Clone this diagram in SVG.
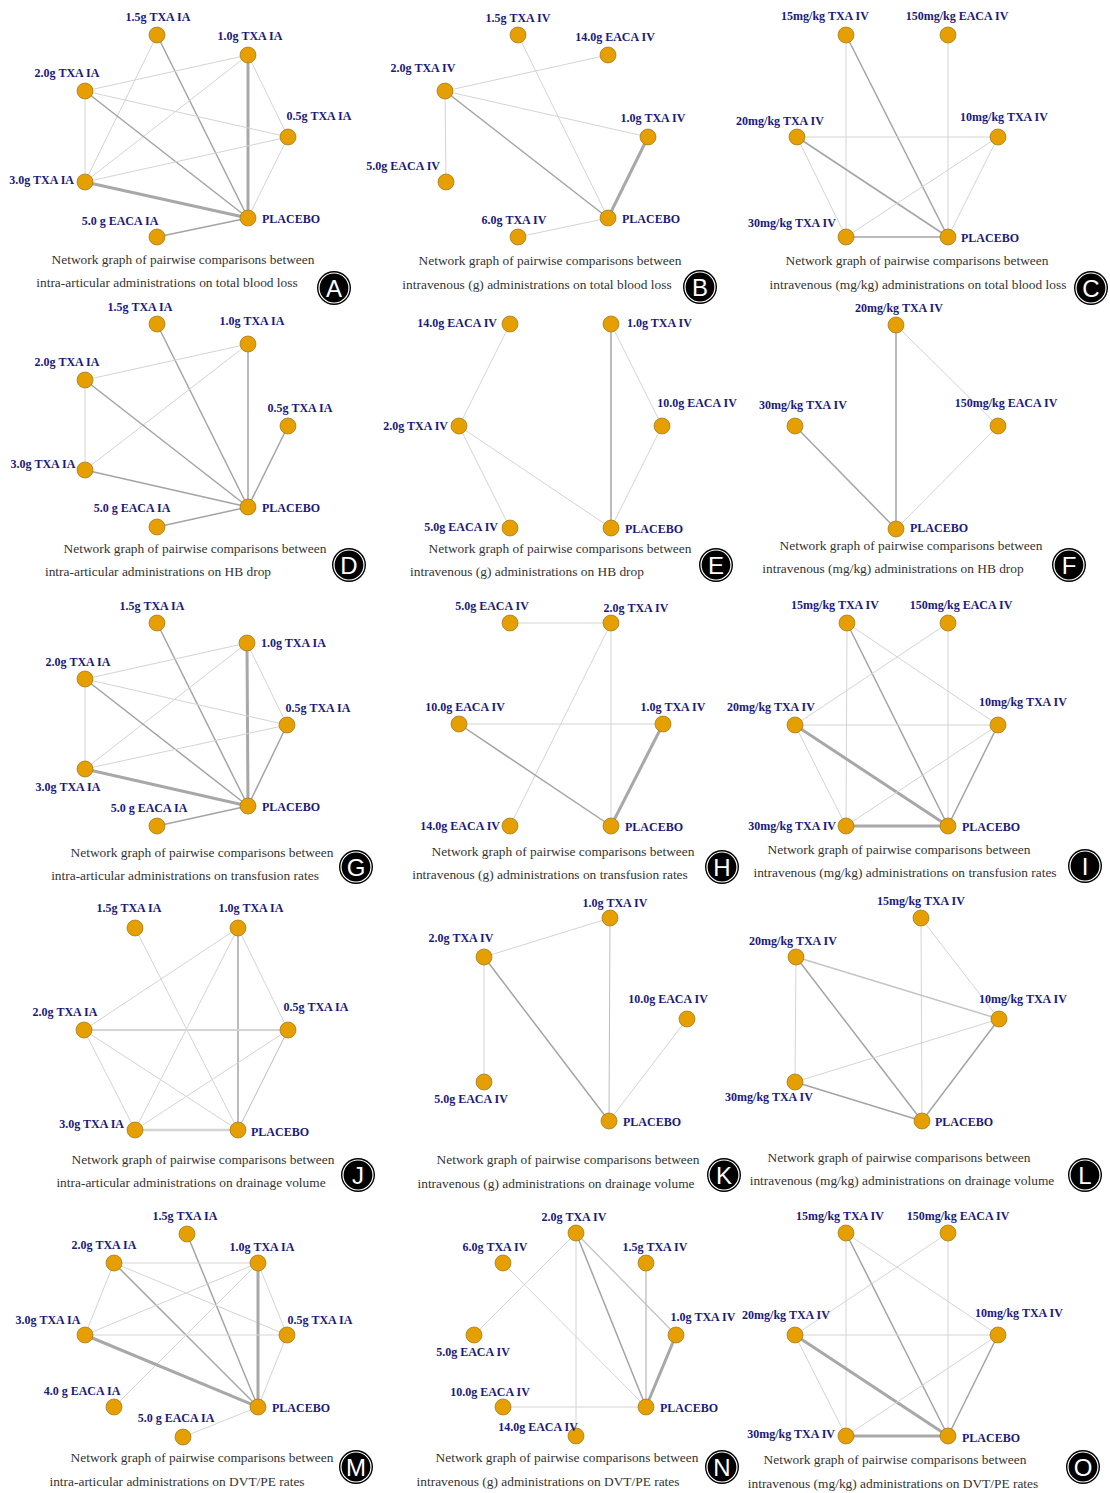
<svg xmlns="http://www.w3.org/2000/svg" width="1110" height="1493" viewBox="0 0 1110 1493">
<style>
.bg{fill:#fff}
.n{fill:#E69F00;stroke:#9a7420;stroke-width:0.7}
.l{font-family:"Liberation Serif",serif;font-weight:bold;font-size:12px;fill:#1a1a7e}
.m{text-anchor:middle}.s{text-anchor:start}.e{text-anchor:end}
.cap{font-family:"Liberation Serif",serif;font-size:13.4px;fill:#333;text-anchor:middle}
.w1{stroke:#d4d4d4;stroke-width:1;fill:none}
.w2{stroke:#a4a4a4;stroke-width:1.5;fill:none}
.w3{stroke:#a8a8a8;stroke-width:3;fill:none}
.bd{fill:#000}
.br{fill:none;stroke:#fff;stroke-width:1.2}
.bl{font-family:"Liberation Sans",sans-serif;font-size:24px;fill:#fff;text-anchor:middle}
</style>
<rect class="bg" width="1110" height="1493"/>

<!-- Panel A -->
<g id="connectors-A">
<line class="w1" x1="157" y1="35" x2="85" y2="182"/>
<line class="w2" x1="157" y1="35" x2="248" y2="218"/>
<line class="w1" x1="248" y1="55" x2="85" y2="91"/>
<line class="w1" x1="248" y1="55" x2="85" y2="182"/>
<line class="w3" x1="248" y1="55" x2="248" y2="218"/>
<line class="w1" x1="248" y1="55" x2="288" y2="137"/>
<line class="w1" x1="85" y1="91" x2="288" y2="137"/>
<line class="w1" x1="85" y1="91" x2="85" y2="182"/>
<line class="w2" x1="85" y1="91" x2="248" y2="218"/>
<line class="w1" x1="288" y1="137" x2="85" y2="182"/>
<line class="w1" x1="288" y1="137" x2="248" y2="218"/>
<line class="w3" x1="85" y1="182" x2="248" y2="218"/>
<line class="w2" x1="157" y1="237" x2="248" y2="218"/>
</g>
<g id="A-15"><circle class="n" cx="157" cy="35" r="8"/><text class="l m" x="158" y="21">1.5g TXA IA</text></g>
<g id="A-10"><circle class="n" cx="248" cy="55" r="8"/><text class="l m" x="250" y="40">1.0g TXA IA</text></g>
<g id="A-20"><circle class="n" cx="85" cy="91" r="8"/><text class="l m" x="67" y="77">2.0g TXA IA</text></g>
<g id="A-05"><circle class="n" cx="288" cy="137" r="8"/><text class="l m" x="319" y="120">0.5g TXA IA</text></g>
<g id="A-30"><circle class="n" cx="85" cy="182" r="8"/><text class="l e" x="74" y="184">3.0g TXA IA</text></g>
<g id="A-P"><circle class="n" cx="248" cy="218" r="8"/><text class="l s" x="262" y="223">PLACEBO</text></g>
<g id="A-5E"><circle class="n" cx="157" cy="237" r="8"/><text class="l m" x="120" y="225">5.0 g EACA IA</text></g>
<g id="A-caption"><text class="cap" x="183" y="264">Network graph of pairwise comparisons between</text><text class="cap" x="167" y="287">intra-articular administrations on total blood loss</text></g>
<g id="A-badge"><circle class="bd" cx="334" cy="288" r="17"/><circle class="br" cx="334" cy="288" r="15"/><text class="bl" x="334" y="297">A</text></g>

<!-- Panel B -->
<g id="connectors-B">
<line class="w1" x1="445" y1="91" x2="608" y2="55"/>
<line class="w1" x1="445" y1="91" x2="648" y2="137"/>
<line class="w1" x1="445" y1="91" x2="446" y2="182"/>
<line class="w2" x1="445" y1="91" x2="608" y2="218"/>
<line class="w1" x1="518" y1="35" x2="608" y2="218"/>
<line class="w3" x1="648" y1="137" x2="608" y2="218"/>
<line class="w1" x1="518" y1="237" x2="608" y2="218"/>
</g>
<g id="B-15"><circle class="n" cx="518" cy="35" r="8"/><text class="l m" x="518" y="22">1.5g TXA IV</text></g>
<g id="B-14E"><circle class="n" cx="608" cy="55" r="8"/><text class="l m" x="615" y="41">14.0g EACA IV</text></g>
<g id="B-20"><circle class="n" cx="445" cy="91" r="8"/><text class="l m" x="423" y="72">2.0g TXA IV</text></g>
<g id="B-10"><circle class="n" cx="648" cy="137" r="8"/><text class="l m" x="653" y="122">1.0g TXA IV</text></g>
<g id="B-5E"><circle class="n" cx="446" cy="182" r="8"/><text class="l e" x="440" y="170">5.0g EACA IV</text></g>
<g id="B-P"><circle class="n" cx="608" cy="218" r="8"/><text class="l s" x="622" y="223">PLACEBO</text></g>
<g id="B-60"><circle class="n" cx="518" cy="237" r="8"/><text class="l m" x="514" y="224">6.0g TXA IV</text></g>
<g id="B-caption"><text class="cap" x="550" y="265">Network graph of pairwise comparisons between</text><text class="cap" x="537" y="289">intravenous (g) administrations on total blood loss</text></g>
<g id="B-badge"><circle class="bd" cx="700" cy="287" r="17"/><circle class="br" cx="700" cy="287" r="15"/><text class="bl" x="700" y="296">B</text></g>

<!-- Panel C -->
<g id="connectors-C">
<line class="w1" x1="846" y1="35" x2="846" y2="237"/>
<line class="w2" x1="846" y1="35" x2="948" y2="237"/>
<line class="w1" x1="948" y1="35" x2="948" y2="237"/>
<line class="w1" x1="797" y1="137" x2="998" y2="137"/>
<line class="w1" x1="797" y1="137" x2="846" y2="237"/>
<line class="w2" x1="797" y1="137" x2="948" y2="237"/>
<line class="w1" x1="998" y1="137" x2="846" y2="237"/>
<line class="w1" x1="998" y1="137" x2="948" y2="237"/>
<line class="w2" x1="846" y1="237" x2="948" y2="237"/>
</g>
<g id="C-15"><circle class="n" cx="846" cy="35" r="8"/><text class="l m" x="825" y="20">15mg/kg TXA IV</text></g>
<g id="C-150"><circle class="n" cx="948" cy="35" r="8"/><text class="l m" x="957" y="20">150mg/kg EACA IV</text></g>
<g id="C-20"><circle class="n" cx="797" cy="137" r="8"/><text class="l m" x="780" y="125">20mg/kg TXA IV</text></g>
<g id="C-10"><circle class="n" cx="998" cy="137" r="8"/><text class="l m" x="1004" y="121">10mg/kg TXA IV</text></g>
<g id="C-30"><circle class="n" cx="846" cy="237" r="8"/><text class="l m" x="792" y="227">30mg/kg TXA IV</text></g>
<g id="C-P"><circle class="n" cx="948" cy="237" r="8"/><text class="l s" x="961" y="242">PLACEBO</text></g>
<g id="C-caption"><text class="cap" x="917" y="265">Network graph of pairwise comparisons between</text><text class="cap" x="918" y="289">intravenous (mg/kg) administrations on total blood loss</text></g>
<g id="C-badge"><circle class="bd" cx="1091" cy="288" r="17"/><circle class="br" cx="1091" cy="288" r="15"/><text class="bl" x="1091" y="297">C</text></g>

<!-- Panel D -->
<g id="connectors-D">
<line class="w2" x1="157" y1="324" x2="248" y2="507"/>
<line class="w1" x1="248" y1="344" x2="85" y2="380"/>
<line class="w1" x1="248" y1="344" x2="85" y2="470"/>
<line class="w2" x1="248" y1="344" x2="248" y2="507"/>
<line class="w1" x1="85" y1="380" x2="85" y2="470"/>
<line class="w2" x1="85" y1="380" x2="248" y2="507"/>
<line class="w2" x1="288" y1="426" x2="248" y2="507"/>
<line class="w2" x1="85" y1="470" x2="248" y2="507"/>
<line class="w2" x1="157" y1="527" x2="248" y2="507"/>
</g>
<g id="D-15"><circle class="n" cx="157" cy="324" r="8"/><text class="l m" x="140" y="311">1.5g TXA IA</text></g>
<g id="D-10"><circle class="n" cx="248" cy="344" r="8"/><text class="l m" x="252" y="325">1.0g TXA IA</text></g>
<g id="D-20"><circle class="n" cx="85" cy="380" r="8"/><text class="l m" x="67" y="366">2.0g TXA IA</text></g>
<g id="D-05"><circle class="n" cx="288" cy="426" r="8"/><text class="l m" x="300" y="412">0.5g TXA IA</text></g>
<g id="D-30"><circle class="n" cx="85" cy="470" r="8"/><text class="l m" x="43" y="468">3.0g TXA IA</text></g>
<g id="D-P"><circle class="n" cx="248" cy="507" r="8"/><text class="l s" x="262" y="512">PLACEBO</text></g>
<g id="D-5E"><circle class="n" cx="157" cy="527" r="8"/><text class="l m" x="132" y="512">5.0 g EACA IA</text></g>
<g id="D-caption"><text class="cap" x="195" y="553">Network graph of pairwise comparisons between</text><text class="cap" x="158" y="576">intra-articular administrations on HB drop</text></g>
<g id="D-badge"><circle class="bd" cx="349" cy="565" r="17"/><circle class="br" cx="349" cy="565" r="15"/><text class="bl" x="349" y="574">D</text></g>

<!-- Panel E -->
<g id="connectors-E">
<line class="w1" x1="510" y1="324" x2="459" y2="426"/>
<line class="w2" x1="611" y1="324" x2="611" y2="528"/>
<line class="w1" x1="611" y1="324" x2="662" y2="426"/>
<line class="w1" x1="662" y1="426" x2="611" y2="528"/>
<line class="w1" x1="459" y1="426" x2="510" y2="528"/>
<line class="w1" x1="459" y1="426" x2="611" y2="528"/>
</g>
<g id="E-14E"><circle class="n" cx="510" cy="324" r="8"/><text class="l e" x="497" y="327">14.0g EACA IV</text></g>
<g id="E-10"><circle class="n" cx="611" cy="324" r="8"/><text class="l s" x="627" y="327">1.0g TXA IV</text></g>
<g id="E-10E"><circle class="n" cx="662" cy="426" r="8"/><text class="l m" x="697" y="407">10.0g EACA IV</text></g>
<g id="E-20"><circle class="n" cx="459" cy="426" r="8"/><text class="l e" x="448" y="430">2.0g TXA IV</text></g>
<g id="E-5E"><circle class="n" cx="510" cy="528" r="8"/><text class="l e" x="498" y="531">5.0g EACA IV</text></g>
<g id="E-P"><circle class="n" cx="611" cy="528" r="8"/><text class="l s" x="625" y="533">PLACEBO</text></g>
<g id="E-caption"><text class="cap" x="560" y="553">Network graph of pairwise comparisons between</text><text class="cap" x="527" y="576">intravenous (g) administrations on HB drop</text></g>
<g id="E-badge"><circle class="bd" cx="716" cy="565" r="17"/><circle class="br" cx="716" cy="565" r="15"/><text class="bl" x="716" y="574">E</text></g>

<!-- Panel F -->
<g id="connectors-F">
<line class="w2" x1="896" y1="325" x2="896" y2="529"/>
<line class="w1" x1="896" y1="325" x2="998" y2="426"/>
<line class="w2" x1="795" y1="426" x2="896" y2="529"/>
<line class="w1" x1="998" y1="426" x2="896" y2="529"/>
</g>
<g id="F-20"><circle class="n" cx="896" cy="325" r="8"/><text class="l m" x="899" y="312">20mg/kg TXA IV</text></g>
<g id="F-30"><circle class="n" cx="795" cy="426" r="8"/><text class="l m" x="803" y="409">30mg/kg TXA IV</text></g>
<g id="F-150"><circle class="n" cx="998" cy="426" r="8"/><text class="l m" x="1006" y="407">150mg/kg EACA IV</text></g>
<g id="F-P"><circle class="n" cx="896" cy="529" r="8"/><text class="l s" x="910" y="532">PLACEBO</text></g>
<g id="F-caption"><text class="cap" x="911" y="550">Network graph of pairwise comparisons between</text><text class="cap" x="893" y="573">intravenous (mg/kg) administrations on HB drop</text></g>
<g id="F-badge"><circle class="bd" cx="1069" cy="565" r="17"/><circle class="br" cx="1069" cy="565" r="15"/><text class="bl" x="1069" y="574">F</text></g>

<!-- Panel G -->
<g id="connectors-G">
<line class="w2" x1="157" y1="623" x2="248" y2="806"/>
<line class="w1" x1="247" y1="643" x2="85" y2="679"/>
<line class="w1" x1="247" y1="643" x2="85" y2="769"/>
<line class="w1" x1="247" y1="643" x2="287" y2="725"/>
<line class="w3" x1="247" y1="643" x2="248" y2="806"/>
<line class="w1" x1="85" y1="679" x2="287" y2="725"/>
<line class="w1" x1="85" y1="679" x2="85" y2="769"/>
<line class="w2" x1="85" y1="679" x2="248" y2="806"/>
<line class="w1" x1="287" y1="725" x2="85" y2="769"/>
<line class="w2" x1="287" y1="725" x2="248" y2="806"/>
<line class="w3" x1="85" y1="769" x2="248" y2="806"/>
<line class="w2" x1="157" y1="826" x2="248" y2="806"/>
</g>
<g id="G-15"><circle class="n" cx="157" cy="623" r="8"/><text class="l m" x="152" y="610">1.5g TXA IA</text></g>
<g id="G-10"><circle class="n" cx="247" cy="643" r="8"/><text class="l s" x="261" y="647">1.0g TXA IA</text></g>
<g id="G-20"><circle class="n" cx="85" cy="679" r="8"/><text class="l m" x="78" y="666">2.0g TXA IA</text></g>
<g id="G-05"><circle class="n" cx="287" cy="725" r="8"/><text class="l m" x="318" y="712">0.5g TXA IA</text></g>
<g id="G-30"><circle class="n" cx="85" cy="769" r="8"/><text class="l m" x="68" y="791">3.0g TXA IA</text></g>
<g id="G-P"><circle class="n" cx="248" cy="806" r="8"/><text class="l s" x="262" y="811">PLACEBO</text></g>
<g id="G-5E"><circle class="n" cx="157" cy="826" r="8"/><text class="l m" x="149" y="812">5.0 g EACA IA</text></g>
<g id="G-caption"><text class="cap" x="202" y="857">Network graph of pairwise comparisons between</text><text class="cap" x="185" y="880">intra-articular administrations on transfusion rates</text></g>
<g id="G-badge"><circle class="bd" cx="356" cy="867" r="17"/><circle class="br" cx="356" cy="867" r="15"/><text class="bl" x="356" y="876">G</text></g>

<!-- Panel H -->
<g id="connectors-H">
<line class="w1" x1="510" y1="623" x2="611" y2="623"/>
<line class="w1" x1="611" y1="623" x2="510" y2="826"/>
<line class="w1" x1="611" y1="623" x2="611" y2="826"/>
<line class="w1" x1="459" y1="724" x2="663" y2="724"/>
<line class="w2" x1="459" y1="724" x2="611" y2="826"/>
<line class="w3" x1="663" y1="724" x2="611" y2="826"/>
</g>
<g id="H-5E"><circle class="n" cx="510" cy="623" r="8"/><text class="l m" x="492" y="610">5.0g EACA IV</text></g>
<g id="H-20"><circle class="n" cx="611" cy="623" r="8"/><text class="l m" x="636" y="612">2.0g TXA IV</text></g>
<g id="H-10E"><circle class="n" cx="459" cy="724" r="8"/><text class="l m" x="465" y="711">10.0g EACA IV</text></g>
<g id="H-10"><circle class="n" cx="663" cy="724" r="8"/><text class="l m" x="673" y="711">1.0g TXA IV</text></g>
<g id="H-14E"><circle class="n" cx="510" cy="826" r="8"/><text class="l e" x="500" y="830">14.0g EACA IV</text></g>
<g id="H-P"><circle class="n" cx="611" cy="826" r="8"/><text class="l s" x="625" y="831">PLACEBO</text></g>
<g id="H-caption"><text class="cap" x="563" y="856">Network graph of pairwise comparisons between</text><text class="cap" x="550" y="879">intravenous (g) administrations on transfusion rates</text></g>
<g id="H-badge"><circle class="bd" cx="722" cy="867" r="17"/><circle class="br" cx="722" cy="867" r="15"/><text class="bl" x="722" y="876">H</text></g>

<!-- Panel I -->
<g id="connectors-I">
<line class="w1" x1="847" y1="623" x2="846" y2="826"/>
<line class="w2" x1="847" y1="623" x2="948" y2="826"/>
<line class="w1" x1="847" y1="623" x2="998" y2="725"/>
<line class="w1" x1="948" y1="623" x2="795" y2="725"/>
<line class="w1" x1="948" y1="623" x2="948" y2="826"/>
<line class="w1" x1="795" y1="725" x2="998" y2="725"/>
<line class="w1" x1="795" y1="725" x2="846" y2="826"/>
<line class="w3" x1="795" y1="725" x2="948" y2="826"/>
<line class="w1" x1="998" y1="725" x2="846" y2="826"/>
<line class="w2" x1="998" y1="725" x2="948" y2="826"/>
<line class="w3" x1="846" y1="826" x2="948" y2="826"/>
</g>
<g id="I-15"><circle class="n" cx="847" cy="623" r="8"/><text class="l m" x="835" y="609">15mg/kg TXA IV</text></g>
<g id="I-150"><circle class="n" cx="948" cy="623" r="8"/><text class="l m" x="961" y="609">150mg/kg EACA IV</text></g>
<g id="I-20"><circle class="n" cx="795" cy="725" r="8"/><text class="l m" x="771" y="711">20mg/kg TXA IV</text></g>
<g id="I-10"><circle class="n" cx="998" cy="725" r="8"/><text class="l m" x="1023" y="706">10mg/kg TXA IV</text></g>
<g id="I-30"><circle class="n" cx="846" cy="826" r="8"/><text class="l e" x="836" y="830">30mg/kg TXA IV</text></g>
<g id="I-P"><circle class="n" cx="948" cy="826" r="8"/><text class="l s" x="962" y="831">PLACEBO</text></g>
<g id="I-caption"><text class="cap" x="899" y="854">Network graph of pairwise comparisons between</text><text class="cap" x="905" y="877">intravenous (mg/kg) administrations on transfusion rates</text></g>
<g id="I-badge"><circle class="bd" cx="1085" cy="866" r="17"/><circle class="br" cx="1085" cy="866" r="15"/><text class="bl" x="1085" y="875">I</text></g>

<!-- Panel J -->
<g id="connectors-J">
<line class="w1" x1="135" y1="928" x2="238" y2="1130"/>
<line class="w1" x1="238" y1="928" x2="84" y2="1030"/>
<line class="w1" x1="238" y1="928" x2="135" y2="1130"/>
<line class="w1" x1="238" y1="928" x2="288" y2="1030"/>
<line class="w2" x1="238" y1="928" x2="238" y2="1130"/>
<line class="w1" x1="84" y1="1030" x2="288" y2="1030" style="stroke-width:2"/>
<line class="w1" x1="84" y1="1030" x2="135" y2="1130"/>
<line class="w1" x1="84" y1="1030" x2="238" y2="1130"/>
<line class="w1" x1="288" y1="1030" x2="135" y2="1130"/>
<line class="w1" x1="288" y1="1030" x2="238" y2="1130" style="stroke:#bbb"/>
<line class="w1" x1="135" y1="1130" x2="238" y2="1130" style="stroke-width:2.5"/>
</g>
<g id="J-15"><circle class="n" cx="135" cy="928" r="8"/><text class="l m" x="129" y="912">1.5g TXA IA</text></g>
<g id="J-10"><circle class="n" cx="238" cy="928" r="8"/><text class="l m" x="251" y="912">1.0g TXA IA</text></g>
<g id="J-20"><circle class="n" cx="84" cy="1030" r="8"/><text class="l m" x="65" y="1016">2.0g TXA IA</text></g>
<g id="J-05"><circle class="n" cx="288" cy="1030" r="8"/><text class="l m" x="316" y="1011">0.5g TXA IA</text></g>
<g id="J-30"><circle class="n" cx="135" cy="1130" r="8"/><text class="l e" x="124" y="1128">3.0g TXA IA</text></g>
<g id="J-P"><circle class="n" cx="238" cy="1130" r="8"/><text class="l s" x="251" y="1136">PLACEBO</text></g>
<g id="J-caption"><text class="cap" x="203" y="1164">Network graph of pairwise comparisons between</text><text class="cap" x="191" y="1187">intra-articular administrations on drainage volume</text></g>
<g id="J-badge"><circle class="bd" cx="358" cy="1175" r="17"/><circle class="br" cx="358" cy="1175" r="15"/><text class="bl" x="358" y="1184">J</text></g>

<!-- Panel K -->
<g id="connectors-K">
<line class="w1" x1="484" y1="957" x2="610" y2="918"/>
<line class="w1" x1="484" y1="957" x2="484" y2="1082"/>
<line class="w2" x1="484" y1="957" x2="609" y2="1121"/>
<line class="w1" x1="610" y1="918" x2="609" y2="1121" style="stroke:#bdbdbd"/>
<line class="w1" x1="687" y1="1019" x2="609" y2="1121"/>
</g>
<g id="K-10"><circle class="n" cx="610" cy="918" r="8"/><text class="l m" x="615" y="907">1.0g TXA IV</text></g>
<g id="K-20"><circle class="n" cx="484" cy="957" r="8"/><text class="l m" x="461" y="942">2.0g TXA IV</text></g>
<g id="K-10E"><circle class="n" cx="687" cy="1019" r="8"/><text class="l m" x="668" y="1003">10.0g EACA IV</text></g>
<g id="K-5E"><circle class="n" cx="484" cy="1082" r="8"/><text class="l m" x="471" y="1103">5.0g EACA IV</text></g>
<g id="K-P"><circle class="n" cx="609" cy="1121" r="8"/><text class="l s" x="623" y="1126">PLACEBO</text></g>
<g id="K-caption"><text class="cap" x="568" y="1164">Network graph of pairwise comparisons between</text><text class="cap" x="556" y="1188">intravenous (g) administrations on drainage volume</text></g>
<g id="K-badge"><circle class="bd" cx="724" cy="1175" r="17"/><circle class="br" cx="724" cy="1175" r="15"/><text class="bl" x="724" y="1184">K</text></g>

<!-- Panel L -->
<g id="connectors-L">
<line class="w1" x1="921" y1="918" x2="999" y2="1019"/>
<line class="w1" x1="921" y1="918" x2="922" y2="1121"/>
<line class="w1" x1="796" y1="957" x2="999" y2="1019" style="stroke:#c4c4c4;stroke-width:1.5"/>
<line class="w1" x1="796" y1="957" x2="795" y2="1082"/>
<line class="w2" x1="796" y1="957" x2="922" y2="1121"/>
<line class="w1" x1="999" y1="1019" x2="795" y2="1082"/>
<line class="w2" x1="999" y1="1019" x2="922" y2="1121"/>
<line class="w2" x1="795" y1="1082" x2="922" y2="1121"/>
</g>
<g id="L-15"><circle class="n" cx="921" cy="918" r="8"/><text class="l m" x="921" y="905">15mg/kg TXA IV</text></g>
<g id="L-20"><circle class="n" cx="796" cy="957" r="8"/><text class="l m" x="793" y="945">20mg/kg TXA IV</text></g>
<g id="L-10"><circle class="n" cx="999" cy="1019" r="8"/><text class="l m" x="1023" y="1003">10mg/kg TXA IV</text></g>
<g id="L-30"><circle class="n" cx="795" cy="1082" r="8"/><text class="l m" x="769" y="1101">30mg/kg TXA IV</text></g>
<g id="L-P"><circle class="n" cx="922" cy="1121" r="8"/><text class="l s" x="935" y="1126">PLACEBO</text></g>
<g id="L-caption"><text class="cap" x="899" y="1162">Network graph of pairwise comparisons between</text><text class="cap" x="902" y="1185">intravenous (mg/kg) administrations on drainage volume</text></g>
<g id="L-badge"><circle class="bd" cx="1085" cy="1175" r="17"/><circle class="br" cx="1085" cy="1175" r="15"/><text class="bl" x="1085" y="1184">L</text></g>

<!-- Panel M -->
<g id="connectors-M">
<line class="w2" x1="187" y1="1234" x2="258" y2="1407"/>
<line class="w1" x1="114" y1="1263" x2="258" y2="1263"/>
<line class="w1" x1="114" y1="1263" x2="85" y2="1335"/>
<line class="w1" x1="114" y1="1263" x2="287" y2="1335"/>
<line class="w2" x1="114" y1="1263" x2="258" y2="1407"/>
<line class="w1" x1="258" y1="1263" x2="85" y2="1335"/>
<line class="w1" x1="258" y1="1263" x2="114" y2="1407"/>
<line class="w1" x1="258" y1="1263" x2="287" y2="1335"/>
<line class="w3" x1="258" y1="1263" x2="258" y2="1407"/>
<line class="w1" x1="85" y1="1335" x2="287" y2="1335"/>
<line class="w3" x1="85" y1="1335" x2="258" y2="1407"/>
<line class="w1" x1="287" y1="1335" x2="258" y2="1407"/>
<line class="w1" x1="183" y1="1437" x2="258" y2="1407"/>
</g>
<g id="M-15"><circle class="n" cx="187" cy="1234" r="8"/><text class="l m" x="185" y="1220">1.5g TXA IA</text></g>
<g id="M-20"><circle class="n" cx="114" cy="1263" r="8"/><text class="l m" x="104" y="1249">2.0g TXA IA</text></g>
<g id="M-10"><circle class="n" cx="258" cy="1263" r="8"/><text class="l m" x="262" y="1251">1.0g TXA IA</text></g>
<g id="M-30"><circle class="n" cx="85" cy="1335" r="8"/><text class="l m" x="48" y="1324">3.0g TXA IA</text></g>
<g id="M-05"><circle class="n" cx="287" cy="1335" r="8"/><text class="l m" x="320" y="1324">0.5g TXA IA</text></g>
<g id="M-4E"><circle class="n" cx="114" cy="1407" r="8"/><text class="l m" x="82" y="1395">4.0 g EACA IA</text></g>
<g id="M-P"><circle class="n" cx="258" cy="1407" r="8"/><text class="l s" x="272" y="1412">PLACEBO</text></g>
<g id="M-5E"><circle class="n" cx="183" cy="1437" r="8"/><text class="l m" x="176" y="1422">5.0 g EACA IA</text></g>
<g id="M-caption"><text class="cap" x="202" y="1462">Network graph of pairwise comparisons between</text><text class="cap" x="177" y="1486">intra-articular administrations on DVT/PE rates</text></g>
<g id="M-badge"><circle class="bd" cx="356" cy="1467" r="17"/><circle class="br" cx="356" cy="1467" r="15"/><text class="bl" x="356" y="1476">M</text></g>

<!-- Panel N -->
<g id="connectors-N">
<line class="w1" x1="576" y1="1233" x2="474" y2="1335"/>
<line class="w1" x1="576" y1="1233" x2="576" y2="1436"/>
<line class="w2" x1="576" y1="1233" x2="646" y2="1407"/>
<line class="w1" x1="576" y1="1233" x2="676" y2="1335" style="stroke:#c4c4c4;stroke-width:1.3"/>
<line class="w1" x1="503" y1="1263" x2="646" y2="1407"/>
<line class="w1" x1="646" y1="1263" x2="646" y2="1407" style="stroke:#bdbdbd;stroke-width:1.3"/>
<line class="w3" x1="676" y1="1335" x2="646" y2="1407"/>
<line class="w1" x1="503" y1="1407" x2="646" y2="1407"/>
</g>
<g id="N-20"><circle class="n" cx="576" cy="1233" r="8"/><text class="l m" x="574" y="1221">2.0g TXA IV</text></g>
<g id="N-60"><circle class="n" cx="503" cy="1263" r="8"/><text class="l m" x="495" y="1251">6.0g TXA IV</text></g>
<g id="N-15"><circle class="n" cx="646" cy="1263" r="8"/><text class="l m" x="655" y="1251">1.5g TXA IV</text></g>
<g id="N-5E"><circle class="n" cx="474" cy="1335" r="8"/><text class="l m" x="473" y="1356">5.0g EACA IV</text></g>
<g id="N-10"><circle class="n" cx="676" cy="1335" r="8"/><text class="l m" x="703" y="1321">1.0g TXA IV</text></g>
<g id="N-10E"><circle class="n" cx="503" cy="1407" r="8"/><text class="l m" x="490" y="1396">10.0g EACA IV</text></g>
<g id="N-P"><circle class="n" cx="646" cy="1407" r="8"/><text class="l s" x="660" y="1412">PLACEBO</text></g>
<g id="N-14E"><circle class="n" cx="576" cy="1436" r="8"/><text class="l m" x="538" y="1431">14.0g EACA IV</text></g>
<g id="N-caption"><text class="cap" x="567" y="1462">Network graph of pairwise comparisons between</text><text class="cap" x="548" y="1486">intravenous (g) administrations on DVT/PE rates</text></g>
<g id="N-badge"><circle class="bd" cx="722" cy="1467" r="17"/><circle class="br" cx="722" cy="1467" r="15"/><text class="bl" x="722" y="1476">N</text></g>

<!-- Panel O -->
<g id="connectors-O">
<line class="w1" x1="846" y1="1233" x2="846" y2="1436"/>
<line class="w2" x1="846" y1="1233" x2="948" y2="1436"/>
<line class="w1" x1="846" y1="1233" x2="998" y2="1335"/>
<line class="w1" x1="948" y1="1233" x2="795" y2="1335"/>
<line class="w1" x1="948" y1="1233" x2="948" y2="1436"/>
<line class="w1" x1="795" y1="1335" x2="998" y2="1335"/>
<line class="w1" x1="795" y1="1335" x2="846" y2="1436"/>
<line class="w3" x1="795" y1="1335" x2="948" y2="1436"/>
<line class="w1" x1="998" y1="1335" x2="846" y2="1436"/>
<line class="w2" x1="998" y1="1335" x2="948" y2="1436"/>
<line class="w3" x1="846" y1="1436" x2="948" y2="1436"/>
</g>
<g id="O-15"><circle class="n" cx="846" cy="1233" r="8"/><text class="l m" x="840" y="1220">15mg/kg TXA IV</text></g>
<g id="O-150"><circle class="n" cx="948" cy="1233" r="8"/><text class="l m" x="958" y="1220">150mg/kg EACA IV</text></g>
<g id="O-20"><circle class="n" cx="795" cy="1335" r="8"/><text class="l m" x="786" y="1319">20mg/kg TXA IV</text></g>
<g id="O-10"><circle class="n" cx="998" cy="1335" r="8"/><text class="l m" x="1019" y="1317">10mg/kg TXA IV</text></g>
<g id="O-30"><circle class="n" cx="846" cy="1436" r="8"/><text class="l e" x="835" y="1438">30mg/kg TXA IV</text></g>
<g id="O-P"><circle class="n" cx="948" cy="1436" r="8"/><text class="l s" x="962" y="1442">PLACEBO</text></g>
<g id="O-caption"><text class="cap" x="895" y="1464">Network graph of pairwise comparisons between</text><text class="cap" x="893" y="1488">intravenous (mg/kg) administrations on DVT/PE rates</text></g>
<g id="O-badge"><circle class="bd" cx="1083" cy="1467" r="17"/><circle class="br" cx="1083" cy="1467" r="15"/><text class="bl" x="1083" y="1476">O</text></g>
</svg>
